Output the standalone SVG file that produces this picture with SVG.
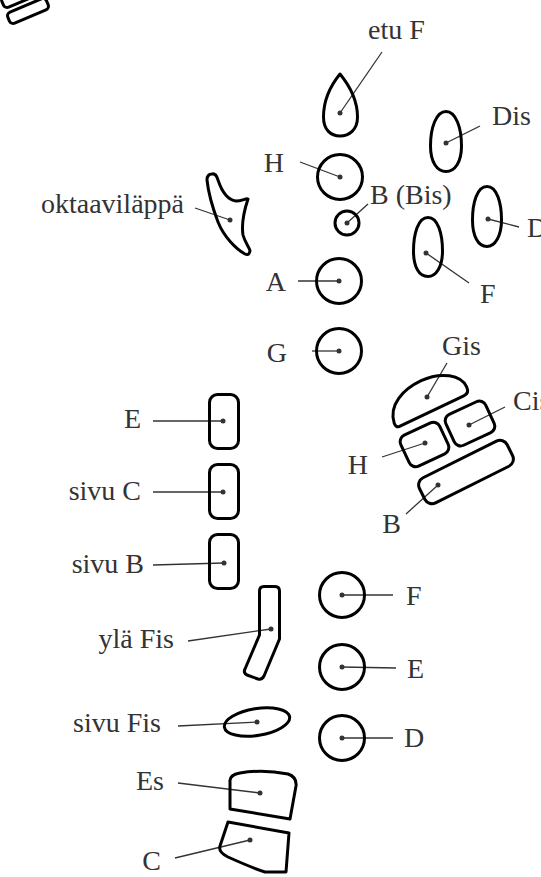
<svg xmlns="http://www.w3.org/2000/svg" width="541" height="877" viewBox="0 0 541 877">
<style>
.k{fill:none;stroke:#000;stroke-width:3;stroke-linejoin:round}
.d{fill:#333}
.t{font-family:"Liberation Serif",serif;font-size:28px;fill:#333}
.e{text-anchor:end}
#connectors line{stroke:#333;stroke-width:1.3}
</style>
<rect width="541" height="877" fill="#fff"/>
<g id="corner">
<rect class="k" x="-21" y="-6" width="42" height="12" rx="4" transform="translate(22,-5) rotate(-23)"/>
<rect class="k" x="-21" y="-6" width="42" height="12" rx="4" transform="translate(28,11) rotate(-23)"/>
</g>
<g id="connectors">
<line x1="382" y1="52" x2="340" y2="113"/>
<line x1="300" y1="162" x2="340" y2="177"/>
<line x1="368" y1="204" x2="347" y2="223"/>
<line x1="298" y1="281" x2="339" y2="281"/>
<line x1="312" y1="351" x2="339" y2="351"/>
<line x1="480" y1="126" x2="446" y2="143"/>
<line x1="519" y1="227" x2="488" y2="219"/>
<line x1="469" y1="283" x2="426" y2="253"/>
<line x1="195" y1="208" x2="230" y2="220"/>
<line x1="153" y1="421" x2="223" y2="421"/>
<line x1="153" y1="492" x2="223" y2="492"/>
<line x1="153" y1="565" x2="224" y2="563"/>
<line x1="188" y1="641" x2="271" y2="629"/>
<line x1="178" y1="726" x2="257" y2="722"/>
<line x1="178" y1="783" x2="260" y2="793"/>
<line x1="175" y1="858" x2="250" y2="840"/>
<line x1="342" y1="595" x2="393" y2="595"/>
<line x1="342" y1="667" x2="396" y2="668"/>
<line x1="342" y1="738" x2="393" y2="738"/>
<line x1="447" y1="363" x2="427" y2="397"/>
<line x1="505" y1="407" x2="469" y2="425"/>
<line x1="382" y1="457" x2="425" y2="443"/>
<line x1="406" y1="514" x2="438" y2="485"/>
</g>
<g id="etuF">
<path class="k" d="M340 74 C331 85 323.5 100 323.5 117 C323.5 130 331 136 340 136 C349 136 357.5 130 357.5 117 C357.5 100 349 85 340 74 Z"/>
<circle class="d" cx="340" cy="113" r="2.5"/>
<text class="t" x="368" y="39">etu F</text>
</g>
<g id="H">
<circle class="k" cx="340" cy="177" r="22.5"/>
<circle class="d" cx="340" cy="177" r="2.5"/>
<text class="t e" x="284" y="172">H</text>
</g>
<g id="Bis">
<circle class="k" cx="347" cy="223" r="12"/>
<circle class="d" cx="347" cy="223" r="2.5"/>
<text class="t" x="370" y="204">B (Bis)</text>
</g>
<g id="A">
<circle class="k" cx="339" cy="281" r="22.5"/>
<circle class="d" cx="339" cy="281" r="2.5"/>
<text class="t e" x="286" y="291">A</text>
</g>
<g id="G">
<circle class="k" cx="339" cy="351" r="22.5"/>
<circle class="d" cx="339" cy="351" r="2.5"/>
<text class="t e" x="287" y="362">G</text>
</g>
<g id="Dis">
<path class="k" d="M446 111.5 C456 111.5 461.5 128 461.5 146 C461.5 162 455 171.5 446 171.5 C437 171.5 430.5 162 430.5 146 C430.5 128 436 111.5 446 111.5 Z"/>
<circle class="d" cx="446" cy="143" r="2.5"/>
<text class="t" x="492" y="125">Dis</text>
</g>
<g id="D1">
<path class="k" d="M487 186.5 C497 186.5 501.5 203 501.5 220 C501.5 236 495 246.5 487 246.5 C478 246.5 472.5 236 472.5 220 C472.5 203 477 186.5 487 186.5 Z"/>
<circle class="d" cx="488" cy="219" r="2.5"/>
<text class="t" x="527" y="237">D</text>
</g>
<g id="F1">
<path class="k" d="M428 217.5 C438 217.5 442.5 234 442.5 251 C442.5 267 436 276.5 428 276.5 C419 276.5 413.5 267 413.5 251 C413.5 234 418 217.5 428 217.5 Z"/>
<circle class="d" cx="426" cy="253" r="2.5"/>
<text class="t" x="480" y="303">F</text>
</g>
<g id="oktaavilappa">
<path class="k" d="M212 174 Q216 173 218 180 C222 192 228 200 236 201 C242 201 246 198 248 199 C245 208 241 222 243 235 C245 243 250 248 250 251 Q249 256 245 254 C236 249 224 237 218 222 C212 206 208 190 207 180 Q207 174 212 174 Z"/>
<circle class="d" cx="230" cy="220" r="2.5"/>
<text class="t e" x="184" y="213">oktaaviläppä</text>
</g>
<g id="E1">
<rect class="k" x="209.5" y="394.5" width="29" height="54" rx="8"/>
<circle class="d" cx="223" cy="421" r="2.5"/>
<text class="t e" x="141" y="428">E</text>
</g>
<g id="sivuC">
<rect class="k" x="209.5" y="464.5" width="29" height="54" rx="8"/>
<circle class="d" cx="223" cy="492" r="2.5"/>
<text class="t e" x="141" y="500">sivu C</text>
</g>
<g id="sivuB">
<rect class="k" x="209.5" y="534.5" width="29" height="54" rx="8"/>
<circle class="d" cx="224" cy="563" r="2.5"/>
<text class="t e" x="144" y="573">sivu B</text>
</g>
<g id="ylaFis">
<path class="k" d="M264 586.5 L275 586.5 Q279.5 586.5 279.5 591 L279.5 639 L264 676 Q262 680 258 679 L247 675 Q243 673 245 669 L259.5 635 L259.5 591 Q259.5 586.5 264 586.5 Z"/>
<circle class="d" cx="271" cy="629" r="2.5"/>
<text class="t e" x="174" y="648">ylä Fis</text>
</g>
<g id="sivuFis">
<ellipse class="k" cx="257" cy="722" rx="33" ry="13.5" transform="rotate(-9 257 722)"/>
<circle class="d" cx="257" cy="722" r="2.5"/>
<text class="t e" x="161" y="732">sivu Fis</text>
</g>
<g id="Es">
<path class="k" d="M230 782 Q229 775 240 773 Q263 769 288 774 Q297 777 296 786 L290 819 L230 809 Z"/>
<circle class="d" cx="260" cy="793" r="2.5"/>
<text class="t e" x="164" y="790">Es</text>
</g>
<g id="C">
<path class="k" d="M228 822 L289 833 L286 872 L265 872 Q250 867 228 857 Q218 852 220 846 Z"/>
<circle class="d" cx="250" cy="840" r="2.5"/>
<text class="t e" x="161" y="870">C</text>
</g>
<g id="F2">
<circle class="k" cx="342" cy="595" r="22.5"/>
<circle class="d" cx="342" cy="595" r="2.5"/>
<text class="t" x="406" y="605">F</text>
</g>
<g id="E2">
<circle class="k" cx="342" cy="667" r="22.5"/>
<circle class="d" cx="342" cy="667" r="2.5"/>
<text class="t" x="407" y="678">E</text>
</g>
<g id="D2">
<circle class="k" cx="342" cy="738" r="22.5"/>
<circle class="d" cx="342" cy="738" r="2.5"/>
<text class="t" x="404" y="747">D</text>
</g>
<g id="Gis">
<path class="k" transform="translate(433,410.5) rotate(-25.3)" d="M-37 0 Q-41 0 -40.5 -5 C-38 -24 -18 -32 2 -32 C24 -32 40.5 -20 40.5 -7 Q40.5 0 34 0 Z"/>
<circle class="d" cx="427" cy="397" r="2.5"/>
<text class="t" x="442" y="355">Gis</text>
</g>
<g id="Cis">
<rect class="k" x="-22" y="-17" width="44" height="34" rx="7" transform="translate(470,423.5) rotate(-25)"/>
<circle class="d" cx="469" cy="425" r="2.5"/>
<text class="t" x="513" y="410">Cis</text>
</g>
<g id="H2">
<rect class="k" x="-21.5" y="-17" width="43" height="34" rx="7" transform="translate(424.5,444.5) rotate(-25)"/>
<circle class="d" cx="425" cy="443" r="2.5"/>
<text class="t e" x="368" y="474">H</text>
</g>
<g id="B2">
<rect class="k" x="-49" y="-14" width="98" height="28" rx="8" transform="translate(466,472) rotate(-26.5)"/>
<circle class="d" cx="438" cy="485" r="2.5"/>
<text class="t e" x="401" y="533">B</text>
</g>
</svg>
